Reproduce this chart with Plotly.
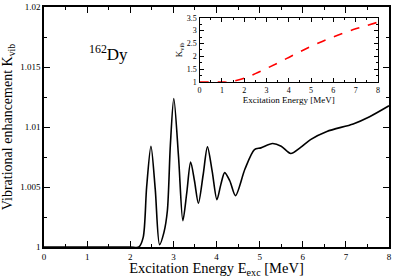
import plotly.graph_objects as go

# Main curve: vibrational enhancement K_vib vs excitation energy (162Dy)
energy = [0.0, 1.0, 2.0, 2.2, 2.3, 2.38, 2.48, 2.58, 2.68, 2.78, 2.86, 2.93, 3.01, 3.12, 3.22,
          3.31, 3.40, 3.49, 3.58, 3.69, 3.79, 3.90, 4.01, 4.10, 4.19, 4.31, 4.44, 4.66,
          4.88, 5.03, 5.30, 5.50, 5.72, 5.95, 6.18, 6.56, 7.17, 7.55, 8.0]
k_vib = [1.0, 1.0, 1.0, 1.0, 1.0008, 1.0050, 1.0084, 1.0048, 1.0002, 1.0012, 1.0030, 1.0085,
         1.01237, 1.0075, 1.0022, 1.0045, 1.00708, 1.0055, 1.00365, 1.0060, 1.00834,
         1.0063, 1.00395, 1.0052, 1.0062, 1.0055, 1.00428, 1.0065, 1.00812, 1.00826,
         1.00862, 1.0084, 1.00779, 1.0083, 1.00895, 1.00963, 1.01026, 1.01086, 1.01177]

# Inset: K_vib over wider scale
inset_energy = [0.0, 1.0, 1.3, 1.5, 2.0, 2.5, 3.0, 3.5, 4.0, 4.5, 5.0, 5.5, 6.0, 6.5, 7.0, 7.5, 8.0]
inset_kvib = [1.0, 1.0, 1.0, 1.03, 1.15, 1.33, 1.53, 1.74, 1.96, 2.18, 2.39, 2.58, 2.76, 2.92,
              3.07, 3.20, 3.33]

serif = "Liberation Serif"

fig = go.Figure()
fig.add_trace(go.Scatter(x=energy, y=k_vib, mode="lines",
                         line=dict(color="black", width=1.6, shape="spline", smoothing=0.8),
                         showlegend=False, xaxis="x", yaxis="y"))
fig.add_trace(go.Scatter(x=inset_energy, y=inset_kvib, mode="lines",
                         line=dict(color="#ff0000", width=1.6, dash="dash", shape="spline"),
                         showlegend=False, xaxis="x2", yaxis="y2"))

axis_common = dict(showline=True, linecolor="black", mirror="ticks", ticks="inside",
                   showgrid=False, zeroline=False, tickcolor="black")

fig.update_layout(
    width=395, height=278,
    margin=dict(l=44, r=3, t=4, b=31),
    paper_bgcolor="white", plot_bgcolor="white",
    font=dict(family=serif, color="black"),
    xaxis=dict(range=[0, 8], dtick=1, ticklen=6, linewidth=1.5, tickwidth=1.2,
               tickfont=dict(size=9, family=serif),
               minor=dict(dtick=0.5, ticklen=3, ticks="inside", tickcolor="black"),
               title=dict(text="Excitation Energy E<sub>exc</sub> [MeV]",
                          font=dict(size=14.5, family=serif), standoff=1),
               **axis_common),
    yaxis=dict(range=[1.0, 1.02], dtick=0.005, ticklen=6, linewidth=1.5, tickwidth=1.2,
               tickfont=dict(size=9, family=serif),
               minor=dict(dtick=0.0025, ticklen=3, ticks="inside", tickcolor="black"),
               title=dict(text="Vibrational enhancement K<sub>vib</sub>",
                          font=dict(size=14, family=serif), standoff=4),
               **axis_common),
    xaxis2=dict(domain=[0.451, 0.968], anchor="y2", range=[0, 8], dtick=1, ticklen=4,
                linewidth=1.3, tickwidth=1,
                tickfont=dict(size=8, family=serif),
                minor=dict(dtick=0.5, ticklen=2, ticks="inside", tickcolor="black"),
                title=dict(text="Excitation Energy [MeV]", font=dict(size=9, family=serif),
                           standoff=0),
                **axis_common),
    yaxis2=dict(domain=[0.687, 0.955], anchor="x2", range=[1, 3.5], dtick=0.5, ticklen=4,
                linewidth=1.3, tickwidth=1,
                tickfont=dict(size=8, family=serif),
                minor=dict(dtick=0.25, ticklen=2, ticks="inside", tickcolor="black"),
                title=dict(text="K<sub>vib</sub>", font=dict(size=9, family=serif), standoff=2),
                **axis_common),
    annotations=[dict(text="<sup>162</sup>Dy", x=1.49, y=1.0162, xref="x", yref="y",
                      showarrow=False, font=dict(size=17, family=serif))],
)

fig.write_html("out.html", config={"displayModeBar": False},
               post_script="document.body.style.margin='0';document.body.style.overflow='hidden';")
